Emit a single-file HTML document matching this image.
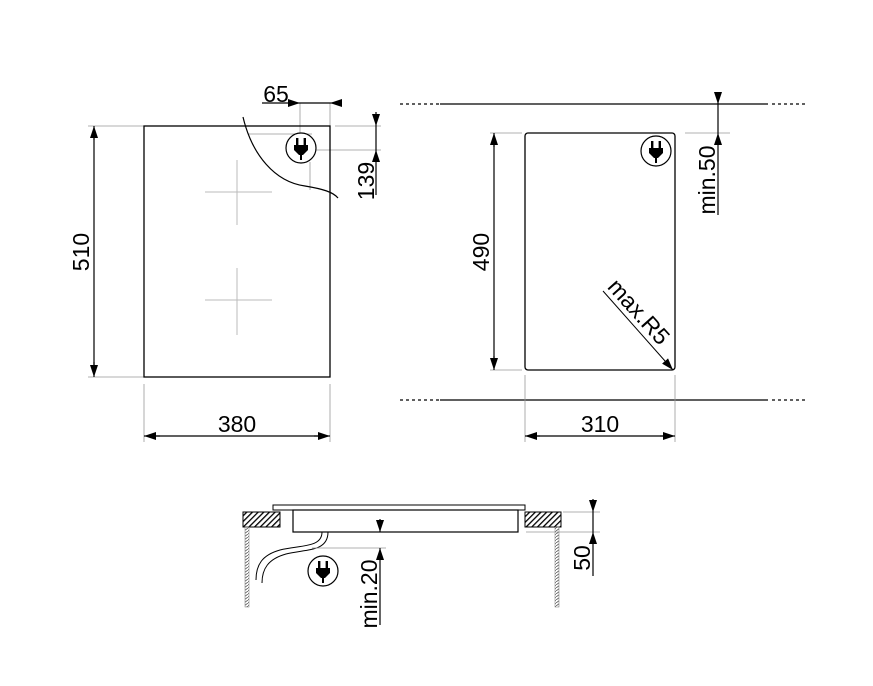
<!DOCTYPE html>
<html><head><meta charset="utf-8"><style>html,body{margin:0;padding:0;background:#fff}svg{display:block}</style></head>
<body>
<svg width="873" height="686" viewBox="0 0 873 686" xmlns="http://www.w3.org/2000/svg" font-family="Liberation Sans, sans-serif" font-size="23" fill="none" stroke="#000">
<defs>
<marker id="a" markerWidth="12" markerHeight="8" refX="12" refY="4" orient="auto" markerUnits="userSpaceOnUse"><path d="M0,0 L12,4 L0,8 Z" fill="#000" stroke="none"/></marker>
<g id="plug">
<circle r="15" stroke="#000" stroke-width="1.2" fill="#fff"/>
<rect x="-5" y="-10" width="2.4" height="7" fill="#000" stroke="none"/>
<rect x="2.6" y="-10" width="2.4" height="7" fill="#000" stroke="none"/>
<path d="M-7,-3 H7 V2 L2,7 H-2 L-7,2 Z" fill="#000" stroke="none"/>
<rect x="-1" y="6" width="2" height="6" fill="#000" stroke="none"/>
</g>
<pattern id="h" width="4" height="4" patternUnits="userSpaceOnUse" patternTransform="rotate(45)"><rect x="0" y="0" width="1.3" height="4" fill="#000" stroke="none"/></pattern>
<pattern id="w" width="4" height="3" patternUnits="userSpaceOnUse"><line x1="0" y1="3" x2="4" y2="0" stroke="#555" stroke-width="0.8"/></pattern>
</defs>

<!-- LEFT VIEW -->
<g stroke="#999" stroke-width="0.8">
<line x1="88" y1="126" x2="144" y2="126"/><line x1="88" y1="377" x2="144" y2="377"/>
<line x1="144" y1="384" x2="144" y2="442"/><line x1="330" y1="384" x2="330" y2="442"/>
<line x1="300" y1="103" x2="300" y2="134"/><line x1="330" y1="103" x2="330" y2="126"/>
<line x1="335" y1="126" x2="381" y2="126"/><line x1="315" y1="150" x2="381" y2="150"/>
<line x1="248" y1="134" x2="312" y2="134"/><line x1="310" y1="162" x2="310" y2="190"/>
</g>
<g stroke="#bbb" stroke-width="1">
<line x1="205" y1="192" x2="272" y2="192"/><line x1="237" y1="160" x2="237" y2="225"/>
<line x1="205" y1="300" x2="272" y2="300"/><line x1="237" y1="268" x2="237" y2="335"/>
</g>
<rect x="144" y="126" width="186" height="251" stroke-width="1.3"/>
<path d="M243,117 C252,155 275,182 305,186 C323,189 333,192 338,198" stroke-width="1.2"/>
<use href="#plug" x="301" y="148"/>
<g stroke-width="1.2">
<line x1="94" y1="134" x2="94" y2="369"/>
<line x1="94" y1="140" x2="94" y2="126" marker-end="url(#a)"/>
<line x1="94" y1="362" x2="94" y2="377" marker-end="url(#a)"/>
<line x1="155" y1="436" x2="320" y2="436"/>
<line x1="160" y1="436" x2="144" y2="436" marker-end="url(#a)"/>
<line x1="314" y1="436" x2="330" y2="436" marker-end="url(#a)"/>
<line x1="262" y1="103" x2="300" y2="103" marker-end="url(#a)"/>
<line x1="300" y1="103" x2="330" y2="103"/>
<line x1="342" y1="103" x2="330" y2="103" marker-end="url(#a)"/>
<line x1="376" y1="112" x2="376" y2="126" marker-end="url(#a)"/>
<line x1="376" y1="126" x2="376" y2="150"/>
<line x1="376" y1="195" x2="376" y2="150" marker-end="url(#a)"/>
</g>
<g fill="#000" stroke="none">
<text x="276" y="102" text-anchor="middle">65</text>
<text x="237" y="432" text-anchor="middle">380</text>
<text transform="translate(89,252) rotate(-90)" text-anchor="middle">510</text>
<text transform="translate(374,181) rotate(-90)" text-anchor="middle">139</text>
</g>

<!-- RIGHT VIEW -->
<g stroke-width="1.2">
<line x1="400" y1="104" x2="440" y2="104" stroke-dasharray="3,3"/>
<line x1="440" y1="104" x2="768" y2="104"/>
<line x1="772" y1="104" x2="806" y2="104" stroke-dasharray="3,3"/>
<line x1="400" y1="400" x2="440" y2="400" stroke-dasharray="3,3"/>
<line x1="440" y1="400" x2="768" y2="400"/>
<line x1="772" y1="400" x2="806" y2="400" stroke-dasharray="3,3"/>
</g>
<g stroke="#999" stroke-width="0.8">
<line x1="490" y1="133" x2="522" y2="133"/><line x1="490" y1="370" x2="522" y2="370"/>
<line x1="525" y1="375" x2="525" y2="442"/><line x1="675" y1="375" x2="675" y2="442"/>
<line x1="685" y1="133" x2="730" y2="133"/>
</g>
<rect x="525" y="133" width="150" height="237" rx="3" stroke-width="1.3"/>
<use href="#plug" x="656" y="151"/>
<g stroke-width="1.2">
<line x1="494" y1="140" x2="494" y2="362"/>
<line x1="494" y1="147" x2="494" y2="133" marker-end="url(#a)"/>
<line x1="494" y1="356" x2="494" y2="370" marker-end="url(#a)"/>
<line x1="535" y1="436" x2="665" y2="436"/>
<line x1="540" y1="436" x2="525" y2="436" marker-end="url(#a)"/>
<line x1="660" y1="436" x2="675" y2="436" marker-end="url(#a)"/>
<line x1="718" y1="92" x2="718" y2="104" marker-end="url(#a)"/>
<line x1="718" y1="104" x2="718" y2="133"/>
<line x1="718" y1="215" x2="718" y2="133" marker-end="url(#a)"/>
<line x1="603" y1="291" x2="673" y2="370" stroke-width="1" marker-end="url(#a)"/>
</g>
<g fill="#000" stroke="none">
<text x="600" y="432" text-anchor="middle">310</text>
<text transform="translate(489,252) rotate(-90)" text-anchor="middle">490</text>
<text transform="translate(715,180) rotate(-90)" text-anchor="middle">min.50</text>
<text transform="translate(633,317) rotate(48)" text-anchor="middle">max.R5</text>
</g>

<!-- BOTTOM VIEW -->
<rect x="243" y="512" width="37" height="15" fill="url(#h)" stroke-width="1"/>
<rect x="525" y="512" width="36" height="15" fill="url(#h)" stroke-width="1"/>
<rect x="245" y="527" width="4" height="80" fill="url(#w)" stroke="#777" stroke-width="0.5"/>
<rect x="555" y="527" width="4" height="80" fill="url(#w)" stroke="#777" stroke-width="0.5"/>
<rect x="273" y="505" width="252" height="5" stroke-width="1"/>
<rect x="293" y="510" width="225" height="22" stroke-width="1.2"/>
<path d="M322,532 C322,548 300,545 280,550 C262,555 256,565 256,580" stroke-width="1"/>
<path d="M328,532 C328,552 306,549 286,554 C268,559 262,569 262,583" stroke-width="1"/>
<use href="#plug" x="323" y="571"/>
<g stroke="#999" stroke-width="0.8">
<line x1="312" y1="548" x2="386" y2="548"/>
<line x1="563" y1="512" x2="600" y2="512"/><line x1="526" y1="532" x2="600" y2="532"/>
</g>
<g stroke-width="1.2">
<line x1="380" y1="519" x2="380" y2="532" marker-end="url(#a)"/>
<line x1="380" y1="625" x2="380" y2="548" marker-end="url(#a)"/>
<line x1="593" y1="499" x2="593" y2="512" marker-end="url(#a)"/>
<line x1="593" y1="512" x2="593" y2="532"/>
<line x1="593" y1="576" x2="593" y2="532" marker-end="url(#a)"/>
</g>
<g fill="#000" stroke="none">
<text transform="translate(377,594) rotate(-90)" text-anchor="middle">min.20</text>
<text transform="translate(590,558) rotate(-90)" text-anchor="middle">50</text>
</g>
</svg>
</body></html>
